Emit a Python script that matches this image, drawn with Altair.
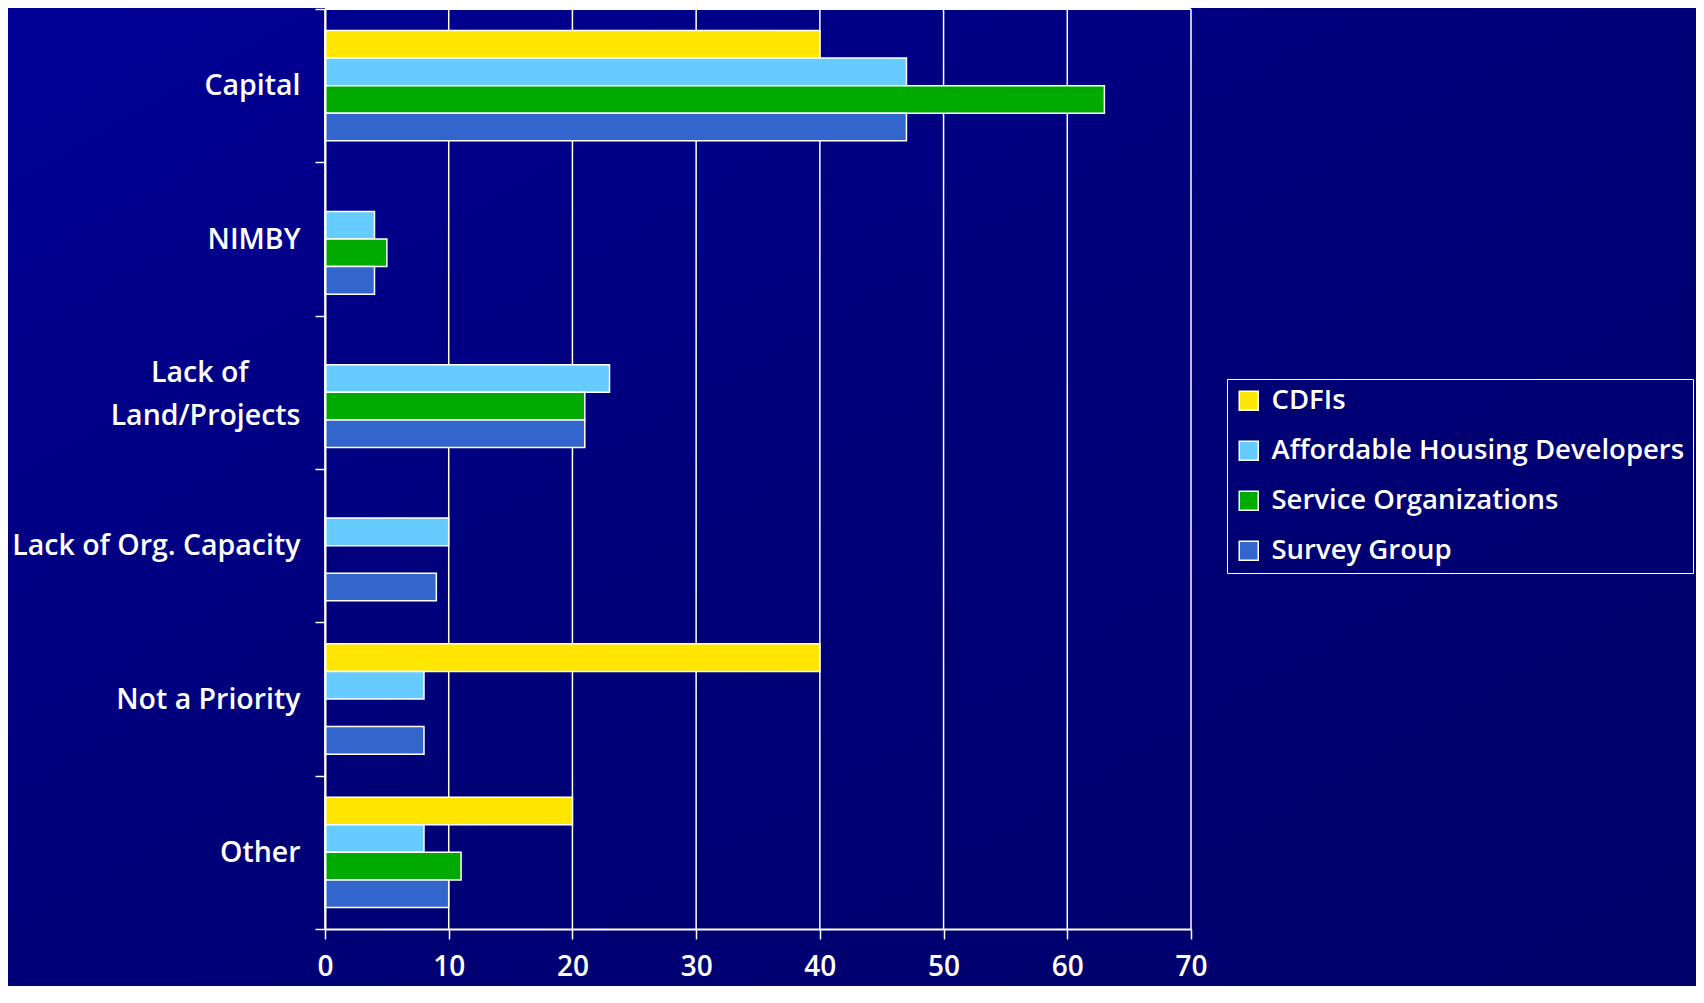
import altair as alt
import pandas as pd

NB = "\u00a0"
ZW = "\u200b"
categories = ["Capital", "NIMBY", "Lack of" + NB * 7 + ZW + "\nLand/Projects",
              "Lack of Org. Capacity", "Not a Priority", "Other"]
series = ["CDFIs", "Affordable Housing Developers", "Service Organizations", "Survey Group"]
colors = ["#FFE600", "#66CCFF", "#00AA00", "#3366CC"]

cdfis = [40, None, None, None, 40, 20]
housing_dev = [47, 4, 23, 10, 8, 8]
service_org = [63, 5, 21, None, None, 11]
survey_group = [47, 4, 21, 9, 8, 10]
x_ticks = [0, 10, 20, 30, 40, 50, 60, 70]

rows = []
for s, vals in zip(series, [cdfis, housing_dev, service_org, survey_group]):
    for c, v in zip(categories, vals):
        if v is not None:
            rows.append({"category": c, "series": s, "value": v})
df = pd.DataFrame(rows)
ticks_df = pd.DataFrame({"value": x_ticks})

W, H = 866, 920
PAD_L, PAD_T, PAD_R, PAD_B = 317, 1, 505, 57
FONT = "Open Sans"
FW = 600

xscale = alt.Scale(domain=[0, 70], nice=False)

grad = alt.LinearGradient(
    gradient="linear",
    stops=[alt.GradientStop(color="#000096", offset=0),
           alt.GradientStop(color="#000078", offset=0.5),
           alt.GradientStop(color="#00006A", offset=1)],
    x1=0, y1=0, x2=1, y2=1,
)

axis_common = dict(
    domainColor="white", domainWidth=2, tickColor="white", tickWidth=1.5, tickSize=10,
    labelColor="white", labelFont=FONT, labelFontWeight=FW, title=None,
    grid=False, zindex=1,
)
x_axis = alt.Axis(values=x_ticks, format="d", labelPadding=14, labelFlush=False,
                  labelFontSize=28, **axis_common)

bg = alt.Chart(pd.DataFrame({"a": [0]})).mark_rect(fill=grad, strokeWidth=0).encode(
    x=alt.value(-PAD_L), x2=alt.value(W + PAD_R),
    y=alt.value(-PAD_T), y2=alt.value(H + PAD_B),
)

grid = alt.Chart(ticks_df).mark_rule(color="white", strokeWidth=1.5).encode(
    x=alt.X("value:Q", scale=xscale, axis=x_axis)
)

top_border = alt.Chart(pd.DataFrame({"a": [0]})).mark_rule(color="white", strokeWidth=2).encode(
    y=alt.value(0)
)

bars = alt.Chart(df).mark_bar(stroke="white", strokeWidth=1.5).encode(
    x=alt.X("value:Q", scale=xscale, axis=x_axis),
    y=alt.Y("category:N", sort=categories,
            scale=alt.Scale(domain=categories, paddingInner=0, paddingOuter=0),
            axis=alt.Axis(tickBand="extent", labelPadding=15, labelLineHeight=43,
                          labelFontSize=28.5, labelLimit=0,
                          labelExpr="split(datum.label, '\\n')",
                          labelOffset={"condition": {"test": "indexof(datum.label, 'Land') >= 0",
                                                     "value": -20},
                                       "value": 0},
                          **axis_common)),
    yOffset=alt.YOffset("series:N", sort=series,
                        scale=alt.Scale(domain=series, paddingInner=0, paddingOuter=0.78)),
    color=alt.Color("series:N", sort=series,
                    scale=alt.Scale(domain=series, range=colors),
                    legend=alt.Legend(orient="none", legendX=902, legendY=370, title=None,
                                      symbolType="square", symbolSize=361,
                                      symbolStrokeColor="white", symbolStrokeWidth=1.5,
                                      labelColor="white", labelFont=FONT, labelFontWeight=FW,
                                      labelFontSize=27.5, labelOffset=9, labelLimit=0,
                                      strokeColor="white", padding=8, rowPadding=21)),
)

chart = alt.layer(bg, grid, top_border, bars).properties(
    width=W, height=H,
    autosize=alt.AutoSizeParams(type="none"),
    padding={"left": PAD_L, "top": PAD_T, "right": PAD_R, "bottom": PAD_B},
).configure(background="#00007C").configure_view(stroke=None)

chart.save("out.html", embed_options={"renderer": "svg", "actions": False})
